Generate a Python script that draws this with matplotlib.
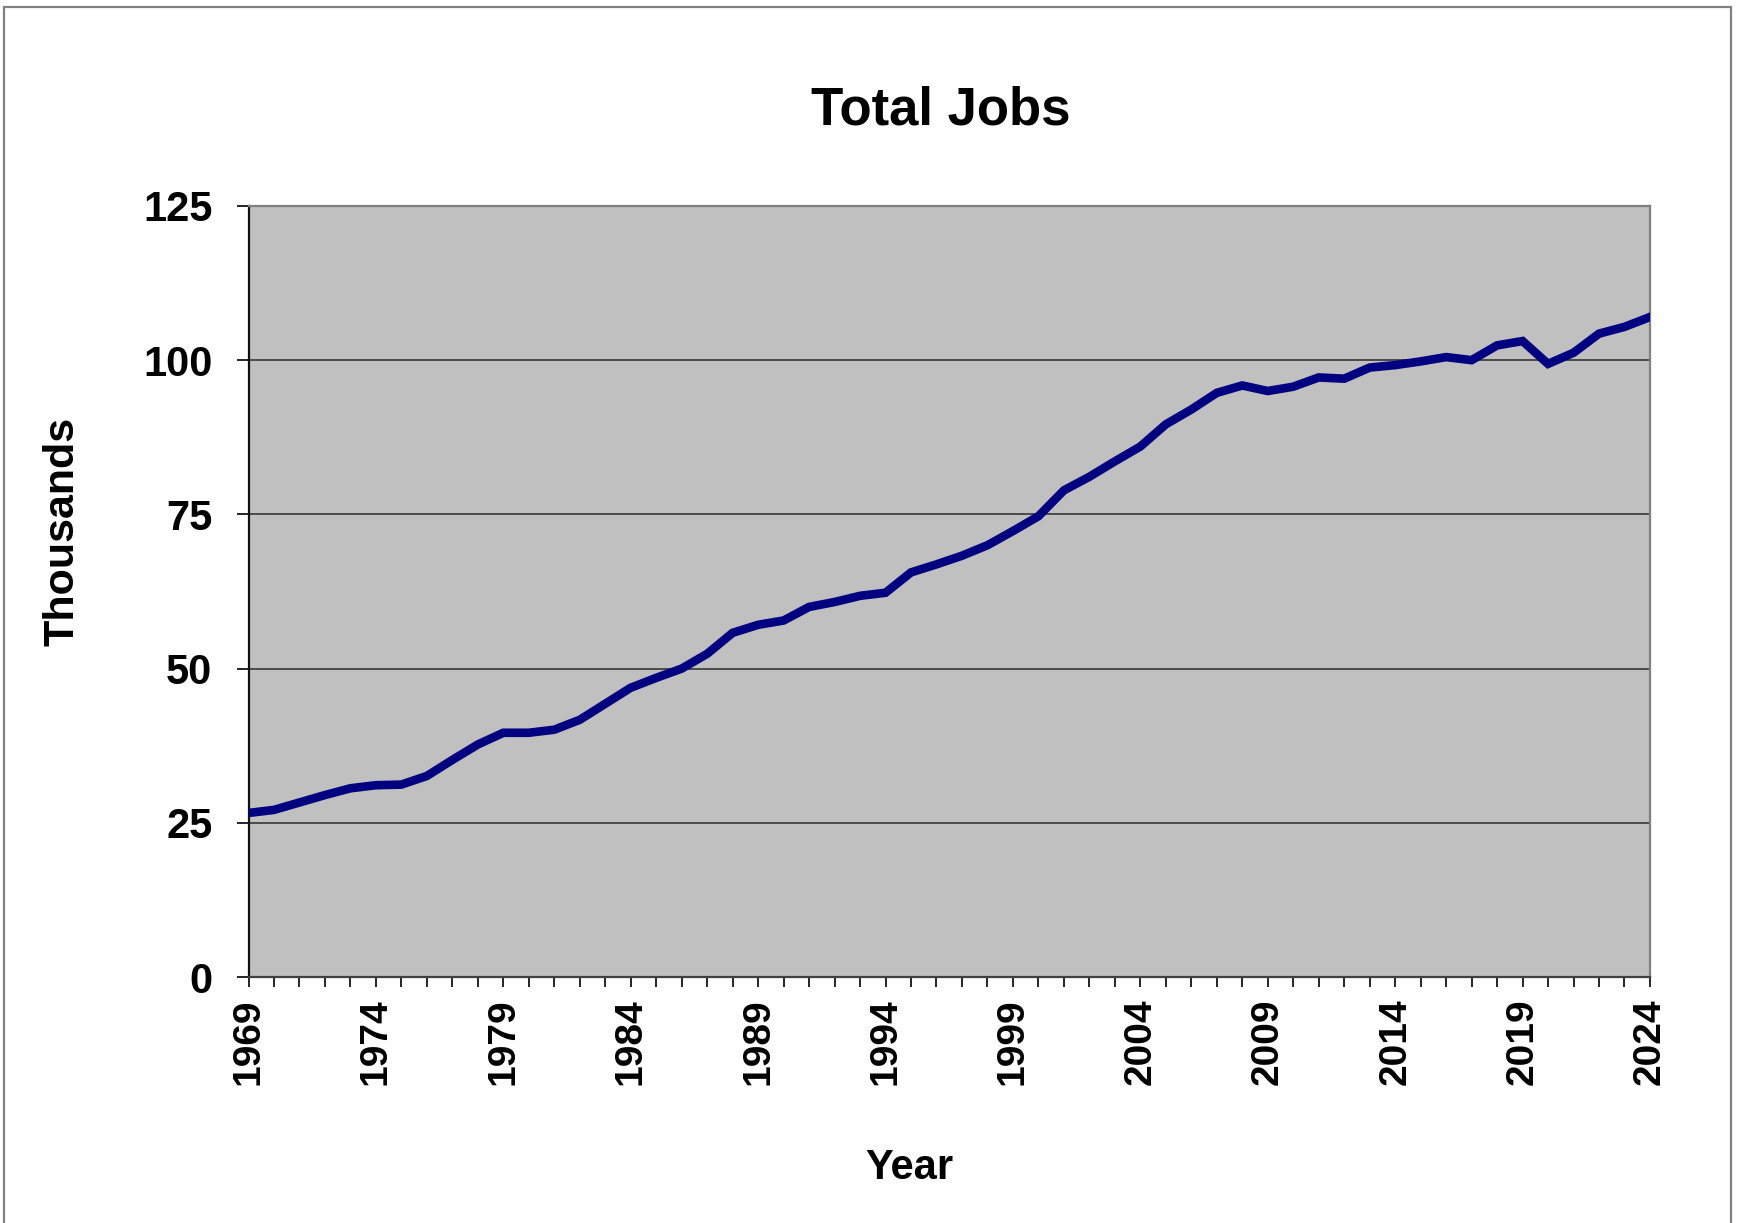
import matplotlib.pyplot as plt
from matplotlib.patches import Rectangle

# Total jobs (thousands) by year
years = list(range(1969, 2025))
jobs = [26.6, 27.1, 28.3, 29.5, 30.6, 31.1, 31.2, 32.6, 35.2, 37.7,
        39.6, 39.6, 40.1, 41.7, 44.3, 46.9, 48.5, 50.0, 52.4, 55.8,
        57.1, 57.8, 60.0, 60.8, 61.8, 62.3, 65.6, 66.9, 68.3, 70.0,
        72.3, 74.7, 78.9, 81.1, 83.6, 86.0, 89.6, 92.0, 94.7, 95.9,
        95.0, 95.7, 97.2, 97.0, 98.8, 99.2, 99.8, 100.5, 100.0, 102.4,
        103.1, 99.4, 101.2, 104.3, 105.4, 107.0]
y_ticks = [0, 25, 50, 75, 100, 125]
label_years = list(range(1969, 2025, 5))

plt.rcParams['font.family'] = ['Liberation Sans', 'DejaVu Sans']
plt.rcParams['font.weight'] = 'bold'

fig = plt.figure(figsize=(17.39, 12.23), dpi=100)
ax = fig.add_axes([0.1429, 0.2011, 0.8059, 0.6305])

ax.set_facecolor('#C0C0C0')
ax.plot(years, jobs, color='#000080', linewidth=6.2, solid_joinstyle='miter', zorder=3)

ax.set_xlim(1969, 2024)
ax.set_ylim(0, 125)
ax.set_yticks(y_ticks)
ax.set_xticks(years)
ax.set_xticklabels([str(y) if y in label_years else '' for y in years], rotation=90)
ax.tick_params(axis='y', length=9, width=1.2, pad=17, labelsize=30, direction='out')
ax.tick_params(axis='x', length=7.5, width=1.2, pad=8, labelsize=28, direction='out')
for lbl in ax.get_xticklabels() + ax.get_yticklabels():
    lbl.set_fontweight('bold')

ax.yaxis.grid(True, color='#2b2b2b', linewidth=1.1)
ax.set_axisbelow(True)

ax.spines['top'].set_color('#808080')
ax.spines['right'].set_color('#808080')
ax.spines['left'].set_color('#111111')
ax.spines['bottom'].set_color('#404040')
for s in ax.spines.values():
    s.set_linewidth(1.6)

fig.text(0.541, 0.8986, 'Total Jobs', ha='center', va='baseline', fontsize=38, fontweight='bold')
fig.text(0.0359, 0.5658, 'Thousands', ha='center', va='center', rotation=90, fontsize=31, fontweight='bold')
fig.text(0.5227, 0.036, 'Year', ha='center', va='baseline', fontsize=30, fontweight='bold')

# outer chart frame
fig.patches.append(Rectangle((0.0021, -0.02), 0.9935, 1.0145, transform=fig.transFigure,
                             fill=False, edgecolor='#808080', linewidth=1.6))

fig.savefig('out.png', dpi=100, facecolor='white')
